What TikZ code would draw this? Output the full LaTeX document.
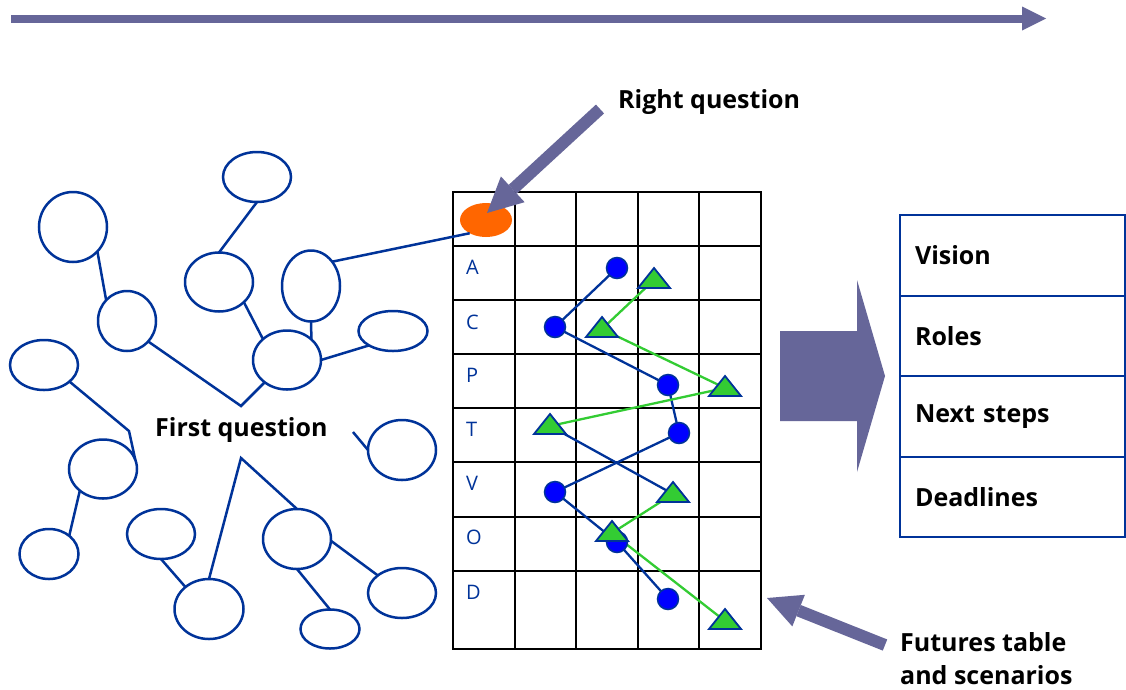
\documentclass[tikz,border=0pt]{standalone}
\usepackage{fontspec}
\setmainfont{Open Sans}
\usetikzlibrary{shapes.geometric,arrows.meta}

\definecolor{slate}{RGB}{102,102,153}
\definecolor{navy}{RGB}{0,51,153}
\definecolor{dotblue}{RGB}{0,0,255}
\definecolor{leaf}{RGB}{51,204,51}
\definecolor{flame}{RGB}{255,102,0}

\tikzset{
  bubble/.style 2 args={ellipse, draw=navy, line width=2.5pt, fill=white,
    minimum width=#1pt, minimum height=#2pt, inner sep=0pt, outer sep=0pt},
  link/.style={draw=navy, line width=2.5pt},
  gridline/.style={draw=black, line width=2.2pt, line cap=rect},
  rowletter/.style={anchor=base west, inner sep=0pt, text=navy,
    font=\fontsize{20}{24}\selectfont},
  caption/.style={inner sep=0pt, font=\fontsize{25}{33}\selectfont\bfseries},
  listrow/.style={draw=navy, line width=2pt, minimum height=80.5pt,
    text width=195pt, inner xsep=15pt, inner ysep=0pt, outer sep=0pt,
    align=left, font=\fontsize{25}{30}\selectfont\bfseries},
  dot/.style={circle, fill=dotblue, draw=navy, line width=1.5pt,
    minimum size=21pt, inner sep=0pt},
  blueline/.style={draw=navy, line width=2.3pt},
  greenline/.style={draw=leaf, line width=2.3pt},
  greentri/.pic={\filldraw[fill=leaf, draw=navy, line width=1.8pt]
    (-16,8) -- (16,8) -- (0,-12) -- cycle;},
}

\begin{document}
\begin{tikzpicture}[x=1pt, y=-1pt]
\fill[white] (0,0) rectangle (1126,689);
\useasboundingbox (0,0) rectangle (1126,689);

% time line along the top
\coordinate (timeStart) at (11,18.5);
\coordinate (timeEnd) at (1046,18.5);
\draw[slate, line width=8pt, -{Triangle[length=24pt,width=24pt,line width=0pt]}]
  (timeStart) -- (timeEnd);

% futures table
\foreach \x in {453,515,576,638,699,761}
  \draw[gridline] (\x,192) -- (\x,649);
\foreach \y in {192,246,300,354,408,462,517,571,649}
  \draw[gridline] (453,\y) -- (761,\y);
\foreach \l/\y in {A/274,C/329,P/382,T/436,V/490,O/544,D/599}
  \node[rowletter] (row\l) at (466,\y) {\l};

% cloud of questions
\node[bubble={68}{70}] (E1)  at (73,227)  {};
\node[bubble={68}{50}] (E2)  at (257,177) {};
\node[bubble={58}{60}] (E3)  at (127,321) {};
\node[bubble={68}{59}] (E4)  at (219,282) {};
\node[bubble={58}{71}] (E5)  at (311,286) {};
\node[bubble={69}{40}] (E6)  at (393,331) {};
\node[bubble={68}{59}] (E7)  at (287,360) {};
\node[bubble={68}{50}] (E8)  at (44,365)  {};
\node[bubble={68}{59}] (E9)  at (103,469) {};
\node[bubble={68}{60}] (E10) at (402,450) {};
\node[bubble={59}{50}] (E11) at (49,554)  {};
\node[bubble={68}{50}] (E12) at (161,534) {};
\node[bubble={69}{60}] (E13) at (209,609) {};
\node[bubble={68}{60}] (E14) at (297,539) {};
\node[bubble={68}{50}] (E15) at (402,593) {};
\node[bubble={59}{39}] (E16) at (330,629) {};

\node[fill=flame, ellipse, minimum width=52pt, minimum height=34pt,
  inner sep=0pt, outer sep=0pt] (rq) at (486,220) {};

\node[caption, anchor=base west] (first) at (155,436) {First question};
\coordinate (J1) at (241,406);
\coordinate (J2) at (129,431);
\coordinate (J3) at (241,458);
\coordinate (stub) at (353,432);

\draw[link] (E1.-45) -- (E3.135);
\draw[link] (E2.-90) -- (E4.90);
\draw[link] (E4.-39) -- (E7.139);
\draw[link] (E5.-90) -- (E7.40);
\draw[link] (E5.49) -- (rq.219);
\draw[link] (E7.0) -- (E6.211);
\draw[link] (E3.-44) -- (J1) -- (E7.225);
\draw[link] (E8.-33) -- (J2) -- (E9.16);
\draw[link] (E9.223) -- (E11.42);
\draw[link] (E13.90) -- (J3) -- (E14.90);
\draw[link] (E12.-90) -- (E13.137);
\draw[link] (E14.-3) -- (E15.144);
\draw[link] (E14.-90) -- (E16.90);
\draw[link] (stub) -- (E10.180);

% scenario paths through the table
\coordinate (c1) at (617,268);
\coordinate (c2) at (555,327);
\coordinate (c3) at (668,385);
\coordinate (c4) at (679,433);
\coordinate (c5) at (555,492);
\coordinate (c6) at (617,542);
\coordinate (c7) at (668,599);
\coordinate (t1) at (654,280);
\coordinate (t2) at (602,329);
\coordinate (t3) at (725,388);
\coordinate (t4) at (550,426);
\coordinate (t5) at (673,494);
\coordinate (t6) at (612,533);
\coordinate (t7) at (725,621);

\draw[blueline] (c1) -- (c2) -- (c3) -- (c4) -- (c5) -- (c6) -- (c7);
\draw[greenline] (t1) -- (t2) -- (t3) -- (t4);
\draw[blueline] (t4) -- (t5);
\draw[greenline] (t5) -- (t6) -- (t7);

\foreach \i in {1,...,7}
  \node[dot] (d\i) at (c\i) {};
\foreach \i in {1,...,7}
  \pic at (t\i) {greentri};

% right question pointer
\node[caption, anchor=base west] (right) at (618,108) {Right question};
\coordinate (rqTail) at (600,109);
\coordinate (rqTip) at (487,213);
\draw[slate, line width=12pt, -{Triangle[length=35pt,width=35pt,line width=0pt]}]
  (rqTail) -- (rqTip);

% outcome block arrow and list
\fill[slate] (780,331) -- (857,331) -- (857,280) -- (885,376)
  -- (857,472) -- (857,421) -- (780,421) -- cycle;
\node[listrow, anchor=north west] (vision) at (900,215) {Vision};
\node[listrow, anchor=north] (roles) at (vision.south) {Roles};
\node[listrow, anchor=north] (next) at (roles.south) {Next steps};
\node[listrow, anchor=north] (dead) at (next.south) {Deadlines};

% futures table pointer
\node[caption, anchor=north west, align=left] (futures) at (900,632)
  {Futures table\\and scenarios};
\coordinate (ftTail) at (885,645);
\coordinate (ftTip) at (767,598);
\draw[slate, line width=12pt, -{Triangle[length=34pt,width=34pt,line width=0pt]}]
  (ftTail) -- (ftTip);
\end{tikzpicture}
\end{document}
